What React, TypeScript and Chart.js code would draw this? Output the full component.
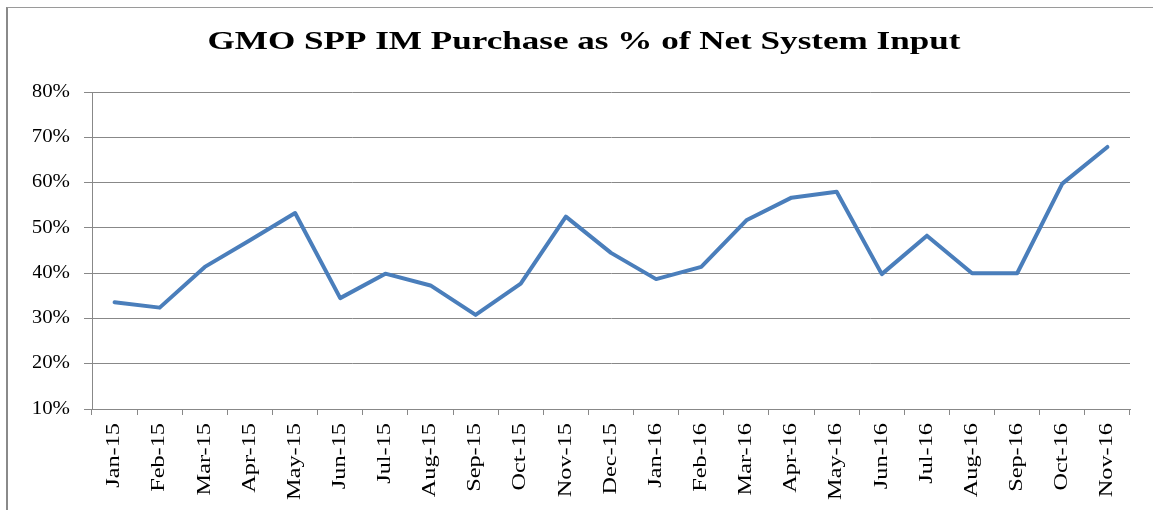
import React, { useEffect, useRef } from 'react';
import { Chart, registerables } from 'chart.js';

Chart.register(...registerables);

// ---- data ----
const categories = [
  'Jan-15', 'Feb-15', 'Mar-15', 'Apr-15', 'May-15', 'Jun-15', 'Jul-15', 'Aug-15',
  'Sep-15', 'Oct-15', 'Nov-15', 'Dec-15', 'Jan-16', 'Feb-16', 'Mar-16', 'Apr-16',
  'May-16', 'Jun-16', 'Jul-16', 'Aug-16', 'Sep-16', 'Oct-16', 'Nov-16',
];
const purchasePct = [
  33.6, 32.4, 41.4, 47.3, 53.3, 34.5, 39.9, 37.3,
  30.8, 37.7, 52.5, 44.5, 38.7, 41.4, 51.7, 56.7,
  58.0, 39.8, 48.3, 40.0, 40.0, 59.8, 67.9,
];
const yMin = 10;
const yMax = 80;
const yStep = 10;
const titleText = 'GMO SPP IM Purchase as % of Net System Input';

// ---- style ----
const K = 1.35; // stretch of glyphs along their baseline (title, x labels)
const K_Y = 1.16; // stretch for y labels
const FONT = '"Liberation Serif", "Times New Roman", serif';
const GRID = '#888888';
const LINE = '#4A7EBB';

const stretchPlugin = {
  id: 'stretchText',
  beforeDraw(chart: any) {
    const ctx = chart.ctx;
    const t = chart.titleBlock;
    if (t && !t.__st) {
      const orig = t.draw.bind(t);
      t.draw = (area: any) => {
        const cx = (t.left + t.right) / 2;
        ctx.save();
        ctx.translate(cx, 0);
        ctx.scale(K, 1);
        ctx.translate(-cx, 0);
        orig(area);
        ctx.restore();
      };
      t.__st = true;
    }
    const ys = chart.scales.y;
    if (ys && !ys.__st) {
      const orig = ys.drawLabels.bind(ys);
      ys.drawLabels = (area: any) => {
        const xr = ys.right - ys.options.grid.tickLength - ys.options.ticks.padding;
        ctx.save();
        ctx.translate(xr, 0);
        ctx.scale(K_Y, 1);
        ctx.translate(-xr, 0);
        orig(area);
        ctx.restore();
      };
      ys.__st = true;
    }
    const xs = chart.scales.x;
    if (xs && !xs.__st) {
      const orig = xs.drawLabels.bind(xs);
      xs.drawLabels = (area: any) => {
        const y0 = xs.top + xs.options.grid.tickLength + xs.options.ticks.padding;
        ctx.save();
        ctx.translate(0, y0);
        ctx.scale(1, K);
        ctx.translate(0, -y0);
        orig(area);
        ctx.restore();
      };
      xs.__st = true;
    }
  },
};

export default function App() {
  const ref = useRef<HTMLCanvasElement | null>(null);

  useEffect(() => {
    if (!ref.current) return;
    const chart = new Chart(ref.current, {
      type: 'line',
      data: {
        labels: categories,
        datasets: [
          {
            data: purchasePct,
            borderColor: LINE,
            backgroundColor: LINE,
            borderWidth: 4,
            pointRadius: 0,
            pointHoverRadius: 0,
            tension: 0,
            fill: false,
            borderJoinStyle: 'round',
            borderCapStyle: 'round',
          },
        ],
      },
      options: {
        responsive: false,
        animation: false,
        events: [],
        layout: { padding: { left: 30, right: 30, top: 0, bottom: 0 } },
        plugins: {
          legend: { display: false },
          tooltip: { enabled: false },
          title: {
            display: true,
            text: titleText,
            color: '#000000',
            font: { family: FONT, size: 26, weight: 'bold' },
            padding: { top: 19, bottom: 34 },
          },
        },
        scales: {
          x: {
            type: 'category',
            offset: true,
            grid: {
              offset: true,
              drawOnChartArea: false,
              drawTicks: true,
              tickLength: 6,
              color: GRID,
              lineWidth: 1,
            },
            border: { display: true, color: GRID, width: 1 },
            ticks: {
              autoSkip: false,
              minRotation: 90,
              maxRotation: 90,
              padding: 8,
              color: '#000000',
              font: { family: FONT, size: 18 },
            },
            afterFit: (s: any) => {
              s.height = 101;
            },
          },
          y: {
            min: yMin,
            max: yMax,
            grid: {
              color: GRID,
              lineWidth: 1,
              tickLength: 8,
              drawTicks: true,
            },
            border: { display: true, color: GRID, width: 1 },
            ticks: {
              stepSize: yStep,
              padding: 14,
              color: '#000000',
              font: { family: FONT, size: 18 },
              callback: (v: any) => `${v}%`,
            },
            afterFit: (s: any) => {
              s.width = 54;
            },
          },
        },
      } as any,
      plugins: [stretchPlugin],
    });
    return () => chart.destroy();
  }, []);

  return (
    <div
      style={{
        position: 'fixed',
        left: 0,
        top: 0,
        width: 1153,
        height: 510,
        overflow: 'hidden',
        background: '#ffffff',
      }}
    >
      <div
        style={{
          position: 'absolute',
          left: 6,
          top: 7,
          width: 1160,
          height: 510,
          borderLeft: '2px solid #8a8a8a',
          borderTop: '1px solid #9a9a9a',
        }}
      />
      <canvas
        ref={ref}
        width={1152}
        height={502}
        style={{ position: 'absolute', left: 8, top: 8 }}
      />
    </div>
  );
}
